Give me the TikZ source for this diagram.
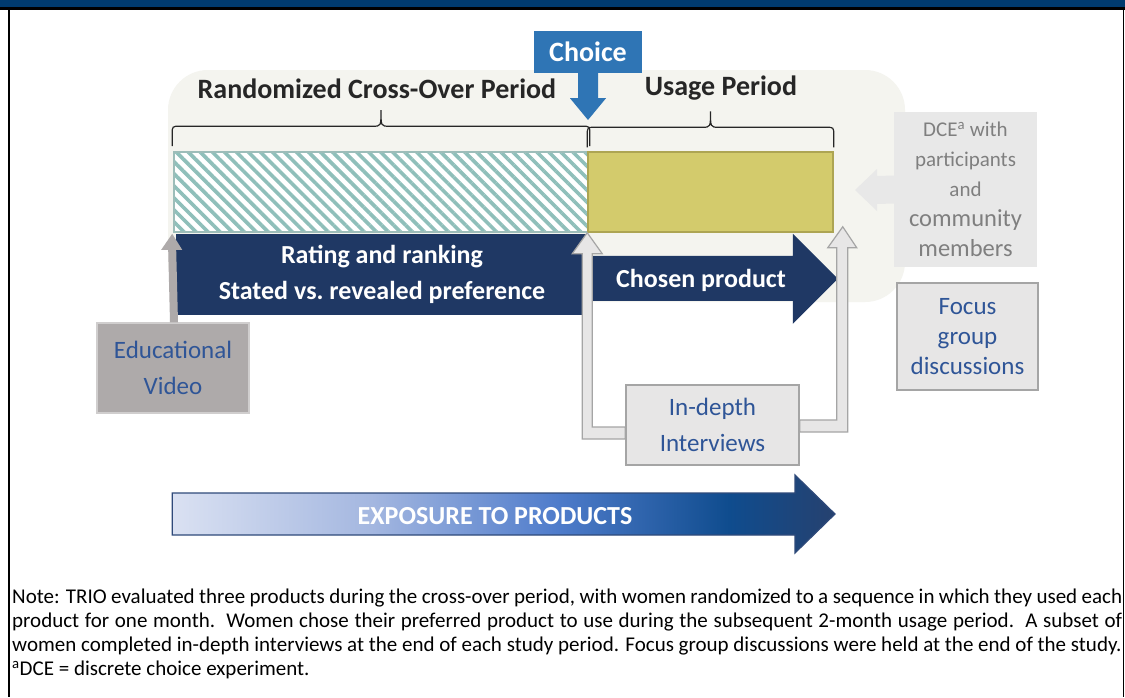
\documentclass[tikz,border=0pt]{standalone}
\usepackage{fontspec}
\setmainfont{Carlito}
\newfontfamily\notefont{Carlito}
\usetikzlibrary{calc,patterns.meta}

\definecolor{bandblue}{HTML}{003B6F}
\definecolor{panel}{HTML}{F4F4EF}
\definecolor{choiceblue}{HTML}{2F75B5}
\definecolor{titletext}{HTML}{262626}
\definecolor{stripe}{HTML}{8FBFBA}
\definecolor{stripeedge}{HTML}{9DBDB9}
\definecolor{olive}{HTML}{D3CB6C}
\definecolor{oliveedge}{HTML}{ADA553}
\definecolor{navy}{HTML}{1F3864}
\definecolor{videogray}{HTML}{AEAAAA}
\definecolor{videoedge}{HTML}{D0CECE}
\definecolor{boxtext}{HTML}{2F5597}
\definecolor{lightbox}{HTML}{E7E6E6}
\definecolor{lightedge}{HTML}{A5A5A5}
\definecolor{dcegray}{HTML}{E8E8E8}
\definecolor{dcetext}{HTML}{7F7F7F}
\definecolor{expA}{HTML}{DAE1F2}
\definecolor{expB}{HTML}{A4B7E0}
\definecolor{expC}{HTML}{4F7CCB}
\definecolor{expD}{HTML}{0F4C8E}
\definecolor{expE}{HTML}{26416F}
\definecolor{expedge}{HTML}{2F4A7A}

\pgfdeclarehorizontalshading{exposureshade}{100bp}{color(0bp)=(expA); color(25bp)=(expA); color(40bp)=(expB); color(54bp)=(expC); color(67bp)=(expD); color(75bp)=(expE); color(100bp)=(expE)}

\def\boldsize{\fontsize{26}{36}\selectfont\bfseries}
\def\plainsize{\fontsize{25}{36}\selectfont}

\tikzset{
  title/.style={text=titletext, font=\fontsize{28}{32}\selectfont\bfseries},
  choicebox/.style={fill=choiceblue, text=white, font=\fontsize{28}{32}\selectfont\bfseries,
    minimum width=108pt, minimum height=42pt, inner sep=0pt},
  hatchbox/.style={draw=stripeedge, line width=1.5pt, preaction={fill=white},
    pattern={Lines[angle=-45,distance=8.5pt,line width=3.6pt]}, pattern color=stripe,
    minimum width=414pt, minimum height=80pt, inner sep=0pt},
  usagebox/.style={fill=olive, draw=oliveedge, line width=1.5pt,
    minimum width=245pt, minimum height=80pt, inner sep=0pt},
  navybox/.style={fill=navy, text=white, font=\boldsize, align=center, inner sep=0pt},
  videobox/.style={fill=videogray, draw=videoedge, line width=1.5pt, text=boxtext,
    font=\plainsize, align=center, inner sep=0pt},
  greybox/.style={fill=lightbox, draw=lightedge, line width=1.5pt, text=boxtext,
    font=\plainsize, align=center, inner sep=0pt},
  hollow/.style={fill=lightbox, draw=lightedge, line width=1.2pt, line join=miter},
  bracket/.style={draw=titletext, line width=1.2pt},
}

\begin{document}
\begin{tikzpicture}[x=1pt, y=-1pt]
  \useasboundingbox (0,0) rectangle (1125,697);
  \fill[white] (0,0) rectangle (1125,697);

  \fill[bandblue] (0,0) rectangle (1125,7);
  \draw[black, line width=2.5pt] (0,8.5) -- (1125,8.5);
  \draw[black, line width=1.5pt] (9,8) -- (9,697);
  \draw[black, line width=1.5pt] (1123.5,8) -- (1123.5,697);

  \fill[panel, rounded corners=40pt] (168,70) rectangle (905,302);

  \node[choicebox] (choice) at (588,52) {Choice};
  \coordinate (choicetip) at (588,120);
  \fill[choiceblue] ($(choice.south)+(-10,0)$) -- ++(0,25) -- ++(-8,0) -- (choicetip)
    -- ($(choice.south)+(18,25)$) -- ++(-8,0) -- ($(choice.south)+(10,0)$) -- cycle;

  \node[title] (crosstitle) at (377,89) {Randomized Cross-Over Period};
  \node[title] (usagetitle) at (721,88) {Usage Period};

  \node[hatchbox] (cross) at (381,192) {};
  \node[usagebox] (usage) at (710.5,192) {};

  \draw[bracket] ($(cross.north west)+(0,-4)$) -- ++(0,-12) .. controls ++(0,-8) .. ++(8,-8)
    -- ($(cross.north)+(-8,-24)$) .. controls ++(8,0) .. ++(8,-16)
    .. controls ++(0,16) .. ++(8,16) -- ($(cross.north east)+(-8,-24)$)
    .. controls ++(8,0) .. ++(8,8) -- ++(0,12);
  \draw[bracket] ($(usage.north west)+(0,-4)$) -- ++(0,-12) .. controls ++(0,-8) .. ++(8,-8)
    -- ($(usage.north)+(-8,-24)$) .. controls ++(8,0) .. ++(8,-16)
    .. controls ++(0,16) .. ++(8,16) -- ($(usage.north east)+(-8,-24)$)
    .. controls ++(8,0) .. ++(8,8) -- ++(0,12);

  \node[navybox, minimum width=412pt, minimum height=81pt] (rating) at (382,274)
    {Rating and ranking\\Stated vs.\ revealed preference};

  \coordinate (chosentip) at ($(usage.south east)+(4,46)$);
  \fill[navy] ($(usage.south west)+(0,23)$) -- ($(chosentip)+(-45,-23)$) -- ++(0,-22)
    -- (chosentip) -- ($(chosentip)+(-45,45)$) -- ++(0,-23)
    -- ($(usage.south west)+(0,68)$) -- cycle;
  \node[text=white, font=\boldsize] (chosen) at (701,280) {Chosen product};

  \node[greybox, minimum width=173pt, minimum height=80pt] (interviews) at (712.5,425)
    {In-depth\\Interviews};
  \coordinate (usagetip) at ($(usage.south east)+(9,-6)$);
  \filldraw[hollow] ($(interviews.west)+(0,14)$) -| ($(usage.south west)+(-5,21)$)
    -- ++(-10,0) -- (usage.south west) -- ++(15,21) -- ++(-10,0)
    |- ($(interviews.west)+(0,2)$) -- cycle;
  \filldraw[hollow] ($(interviews.east)+(0,-5)$) -| ($(usagetip)+(-6,21)$)
    -- ++(-9,0) -- (usagetip) -- ++(14,21) -- ++(-9,0)
    |- ($(interviews.east)+(0,7)$) -- cycle;

  \node[videobox, minimum width=152pt, minimum height=90pt] (video) at (173,368)
    {Educational\\Video};
  \fill[videogray] ($(video.north)+(-3,0)$) -- ($(cross.south west)+(-4,16)$) -- ++(-7,0)
    -- (cross.south west) -- ++(10,16) -- ++(-6,0) -- ($(video.north)+(5,0)$) -- cycle;

  \node[fill=dcegray, text=dcetext, align=center, inner sep=0pt,
    font=\fontsize{21}{30}\selectfont,
    minimum width=143pt, minimum height=155pt] (dce) at (965.5,189.5)
    {DCE\textsuperscript{a} with\\participants\\and\\
     {\fontsize{24.5}{30}\selectfont community}\\
     {\fontsize{24.5}{30}\selectfont members}};
  \coordinate (dcetip) at (855,190);
  \fill[dcegray] ($(dce.west)+(0,-14)$) -- ($(dcetip)+(22,-14)$) -- ++(0,-7) -- (dcetip)
    -- ($(dcetip)+(22,21)$) -- ++(0,-7) -- ($(dce.west)+(0,14)$) -- cycle;

  \node[greybox, font=\fontsize{25}{30}\selectfont, minimum width=141pt, minimum height=107pt]
    (focus) at (967.5,336.5) {Focus\\group\\discussions};

  \coordinate (exposuretip) at (835,514);
  \shadedraw[shading=exposureshade, draw=expedge, line width=1.2pt]
    ($(cross.west |- exposuretip)+(0,-21)$) -- ($(exposuretip)+(-40,-21)$) -- ++(0,-18)
    -- (exposuretip) -- ($(exposuretip)+(-40,39)$) -- ++(0,-18)
    -- ($(cross.west |- exposuretip)+(0,21)$) -- cycle;
  \node[text=white, font=\boldsize] (exposure) at (495,516) {EXPOSURE TO PRODUCTS};

  \node[anchor=north west, inner sep=0pt, text width=1110pt, align=justify,
    font=\notefont\fontsize{21}{24}\selectfont] (note) at (12,589)
    {Note: TRIO evaluated three products during the cross-over period, with women randomized to a sequence in which they used each\linebreak
     product for one month.\ \ Women chose their preferred product to use during the subsequent 2-month usage period.\ \ A subset of\linebreak
     women completed in-depth interviews at the end of each study period. Focus group discussions were held at the end of the study.\\
     \textsuperscript{a}DCE = discrete choice experiment.};
\end{tikzpicture}
\end{document}
